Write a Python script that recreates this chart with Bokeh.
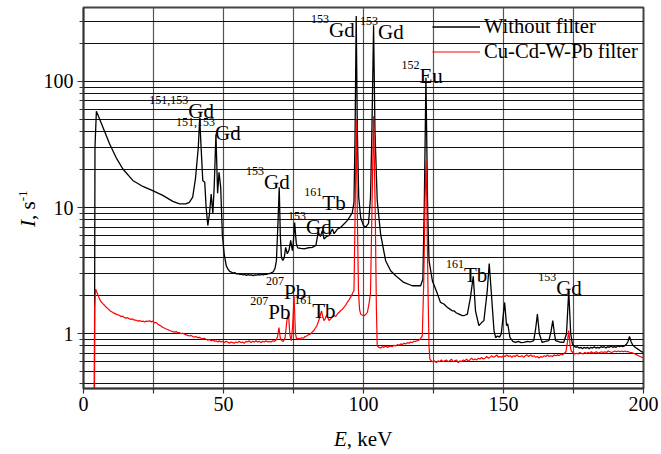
from bokeh.plotting import figure
from bokeh.models import (FixedTicker, PrintfTickFormatter, Range1d, Legend,
                          LegendItem, ColumnDataSource, Div)
from bokeh.layouts import row, column
from bokeh.core.properties import value
from bokeh.embed import file_html
from bokeh.resources import INLINE

FONT = "Liberation Serif"

# ---------------- data (E in keV, I in 1/s) ----------------
without_filter = [
    (3.9, 0.30), (4.1, 30.0), (4.6, 58.0), (5.2, 54.0), (6.9, 43.4), (9.3, 32.0),
    (11.6, 25.0), (14.0, 20.3), (17.6, 16.4), (21.2, 14.7), (24.7, 13.6), (28.3, 12.5),
    (31.9, 11.2), (34.3, 10.7), (36.5, 10.7), (37.8, 11.0), (39.0, 12.1), (40.0, 17.0),
    (40.6, 24.0), (41.0, 30.0), (41.5, 51.0), (42.0, 30.0), (42.6, 16.4), (43.3, 15.9),
    (43.8, 10.0), (44.4, 7.2), (45.0, 9.0), (45.6, 12.8), (46.2, 9.0), (46.7, 15.0),
    (47.3, 38.0), (47.9, 13.0), (48.4, 19.0), (49.0, 14.5), (49.6, 6.0), (50.3, 4.2),
    (51.0, 3.45), (51.6, 3.25), (52.2, 3.12), (52.8, 3.08), (53.4, 3.02), (54.0, 3.05),
    (54.6, 2.98), (55.2, 3.0), (55.8, 2.95), (56.4, 2.97), (57.0, 2.92), (57.6, 2.95),
    (58.2, 2.90), (58.8, 2.94), (59.4, 2.91), (60.0, 2.93), (60.6, 2.89), (61.2, 2.93),
    (61.8, 2.91), (62.4, 2.94), (63.0, 2.92), (63.6, 2.95), (64.2, 2.93), (64.8, 2.97),
    (65.4, 2.95), (66.0, 2.99), (66.6, 3.0), (67.2, 3.05), (67.8, 3.1), (68.4, 3.3),
    (68.9, 3.8), (69.5, 8.0), (69.9, 14.5), (70.3, 6.0), (70.7, 4.0), (71.2, 3.8),
    (71.7, 4.0), (72.2, 4.84), (72.8, 4.3), (73.4, 4.6), (74.0, 5.5), (74.6, 4.55),
    (75.0, 5.5), (75.4, 7.6), (76.0, 5.2), (76.5, 4.8), (77.6, 4.75), (78.8, 4.7),
    (80.2, 4.8), (81.7, 4.84), (83.0, 5.0), (83.8, 6.36), (84.6, 5.9), (85.3, 6.56),
    (85.9, 5.64), (86.8, 5.9), (87.7, 6.0), (88.9, 6.76), (89.5, 6.2), (90.7, 6.76),
    (91.6, 6.9), (92.5, 7.2), (94.2, 7.88), (95.2, 8.5), (96.0, 9.1), (96.6, 11.0),
    (97.0, 40.0), (97.4, 330.0), (97.8, 40.0), (98.3, 12.0), (99.0, 8.3), (100.0, 7.2),
    (100.8, 6.98), (101.8, 7.5), (102.5, 12.0), (103.0, 40.0), (103.6, 278.0),
    (104.1, 40.0), (104.9, 11.4), (106.1, 6.18), (107.9, 3.79), (109.7, 3.16),
    (111.5, 2.88), (114.4, 2.55), (117.4, 2.4), (120.4, 2.4), (121.2, 2.7), (121.7, 10.0),
    (122.3, 107.0), (122.9, 10.0), (123.4, 3.79), (124.6, 2.63), (126.4, 2.07),
    (127.5, 1.77), (128.7, 1.72), (129.9, 1.62), (131.0, 1.56), (131.7, 1.52),
    (132.3, 1.52), (133.2, 1.46), (134.1, 1.43), (134.7, 1.41), (135.3, 1.39),
    (136.2, 1.40), (137.1, 1.43), (138.2, 1.94), (139.2, 2.85), (140.0, 1.52),
    (141.2, 1.16), (142.1, 1.22), (143.0, 1.27), (144.2, 2.19), (144.9, 3.6),
    (145.6, 2.19), (146.6, 1.06), (147.2, 0.93), (147.8, 0.96), (148.6, 0.94),
    (149.2, 1.0), (150.4, 1.77), (151.1, 1.16), (151.5, 1.2), (152.3, 0.935),
    (153.3, 0.87), (154.3, 0.853), (155.3, 0.87), (156.3, 0.85), (157.3, 0.853),
    (158.5, 0.87), (159.6, 0.86), (160.8, 0.88), (161.5, 1.1), (162.1, 1.43),
    (162.8, 1.0), (163.8, 0.853), (165.0, 0.87), (166.2, 0.88), (167.0, 1.05),
    (167.6, 1.27), (168.2, 1.0), (168.6, 0.88), (170.0, 0.86), (171.5, 0.853),
    (172.5, 1.0), (173.3, 2.19), (174.0, 1.0), (174.6, 0.83), (175.1, 0.80),
    (175.8, 0.78), (176.4, 0.79), (177.0, 0.77), (177.6, 0.78), (178.2, 0.76),
    (178.8, 0.78), (179.4, 0.77), (180.0, 0.78), (180.6, 0.76), (181.2, 0.78),
    (181.8, 0.77), (182.4, 0.79), (183.0, 0.77), (183.6, 0.78), (184.2, 0.77),
    (184.8, 0.79), (185.4, 0.78), (186.0, 0.79), (186.6, 0.77), (187.2, 0.79),
    (187.8, 0.78), (188.4, 0.80), (189.0, 0.78), (189.6, 0.79), (190.2, 0.78),
    (190.8, 0.80), (191.4, 0.79), (192.0, 0.80), (192.6, 0.79), (193.2, 0.80),
    (193.8, 0.82), (194.4, 0.86), (195.0, 0.95), (195.6, 0.86), (196.2, 0.81),
    (196.8, 0.79), (197.4, 0.77), (198.0, 0.755), (198.6, 0.74), (199.3, 0.72),
    (200.0, 0.71),
]

cu_cd_w_pb_filter = [
    (3.85, 0.30), (4.0, 1.6), (4.3, 2.26), (4.7, 2.15), (5.1, 2.05), (5.7, 1.89),
    (6.2, 1.80), (6.8, 1.74), (7.4, 1.69), (8.1, 1.62), (8.7, 1.58), (9.3, 1.53),
    (9.9, 1.50), (10.5, 1.47), (11.1, 1.45), (11.6, 1.43), (12.2, 1.41), (12.8, 1.40),
    (13.4, 1.37), (14.0, 1.38), (14.6, 1.34), (15.2, 1.33), (15.8, 1.34), (16.4, 1.31),
    (17.0, 1.30), (17.6, 1.31), (18.2, 1.28), (18.8, 1.28), (19.4, 1.26), (20.0, 1.27),
    (20.6, 1.25), (21.2, 1.26), (21.8, 1.24), (22.4, 1.26), (23.0, 1.25), (23.6, 1.27),
    (24.2, 1.24), (24.7, 1.26), (25.3, 1.22), (25.9, 1.23), (26.5, 1.19), (27.1, 1.17),
    (27.7, 1.15), (28.3, 1.12), (28.9, 1.11), (29.5, 1.09), (30.1, 1.08), (30.7, 1.06),
    (31.3, 1.05), (31.9, 1.04), (32.5, 1.03), (33.1, 1.04), (33.7, 1.02), (34.3, 1.02),
    (34.9, 1.00), (35.5, 1.01), (36.1, 0.99), (36.7, 0.98), (37.2, 0.97), (37.8, 0.96),
    (38.4, 0.97), (39.0, 0.95), (39.6, 0.94), (40.2, 0.95), (40.8, 0.93), (41.4, 0.935),
    (42.0, 0.92), (42.6, 0.91), (43.2, 0.92), (43.8, 0.90), (44.4, 0.89), (45.0, 0.90),
    (45.6, 0.88), (46.2, 0.89), (46.8, 0.87), (47.4, 0.88), (48.0, 0.86), (48.5, 0.88),
    (49.1, 0.86), (49.7, 0.87), (50.3, 0.85), (50.9, 0.87), (51.5, 0.86), (52.1, 0.84),
    (52.7, 0.86), (53.3, 0.85), (53.8, 0.84), (54.4, 0.86), (55.0, 0.85), (55.6, 0.87),
    (56.2, 0.85), (56.8, 0.86), (57.4, 0.84), (58.0, 0.87), (58.6, 0.86), (59.2, 0.88),
    (59.8, 0.85), (60.4, 0.87), (61.0, 0.86), (61.6, 0.88), (62.2, 0.86), (62.8, 0.87),
    (63.4, 0.85), (64.0, 0.87), (64.6, 0.86), (65.2, 0.88), (65.8, 0.86), (66.4, 0.87),
    (67.0, 0.86), (67.6, 0.88), (68.2, 0.87), (68.8, 0.89), (69.3, 0.95), (69.8, 1.12),
    (70.3, 0.92), (70.8, 0.88), (71.4, 0.87), (72.0, 0.93), (72.6, 1.25), (73.2, 1.45),
    (73.7, 0.98), (74.2, 0.88), (74.7, 1.15), (75.2, 2.0), (75.7, 1.0), (76.1, 0.91),
    (76.7, 0.92), (77.3, 0.91), (77.9, 0.93), (78.5, 0.92), (79.1, 0.95), (79.7, 0.96),
    (80.3, 0.98), (80.9, 0.99), (81.5, 1.02), (82.1, 1.05), (82.7, 1.1), (83.3, 1.15),
    (83.9, 1.25), (84.4, 1.35), (85.0, 1.52), (85.5, 1.35), (85.9, 1.27), (86.4, 1.32),
    (86.8, 1.41), (87.3, 1.33), (87.7, 1.27), (88.3, 1.31), (88.9, 1.36), (89.5, 1.39),
    (90.1, 1.37), (90.7, 1.44), (91.3, 1.48), (91.8, 1.52), (92.4, 1.56), (93.0, 1.62),
    (93.6, 1.68), (94.2, 1.77), (94.8, 1.85), (95.4, 1.95), (96.0, 2.07), (96.6, 2.2),
    (97.0, 9.0), (97.4, 50.0), (97.8, 9.0), (98.2, 2.2), (98.6, 1.55), (99.0, 1.43),
    (99.6, 1.40), (100.2, 1.39), (100.8, 1.42), (101.4, 1.48), (102.0, 1.75), (102.5, 2.1),
    (103.0, 9.0), (103.6, 53.0), (104.2, 9.0), (104.6, 1.6), (104.9, 0.80), (105.5, 0.78),
    (106.1, 0.77), (106.7, 0.79), (107.3, 0.78), (107.9, 0.80), (108.5, 0.78), (109.1, 0.79),
    (109.7, 0.80), (110.3, 0.79), (110.9, 0.81), (111.5, 0.80), (112.1, 0.82), (112.7, 0.81),
    (113.3, 0.83), (113.9, 0.82), (114.5, 0.84), (115.1, 0.83), (115.7, 0.85), (116.3, 0.84),
    (116.8, 0.86), (117.4, 0.85), (118.0, 0.87), (118.6, 0.87), (119.2, 0.88), (119.8, 0.89),
    (120.4, 0.92), (121.0, 0.96), (121.5, 2.5), (122.0, 12.0), (122.3, 23.6), (122.6, 12.0),
    (123.0, 2.5), (123.4, 0.8), (123.7, 0.63), (124.2, 0.61), (124.8, 0.60), (125.4, 0.61),
    (126.0, 0.59), (126.6, 0.61), (127.2, 0.60), (127.8, 0.62), (128.4, 0.60), (129.0, 0.61),
    (129.6, 0.62), (130.2, 0.60), (130.8, 0.61), (131.4, 0.63), (132.0, 0.60), (132.6, 0.61),
    (133.2, 0.62), (133.8, 0.59), (134.4, 0.61), (135.0, 0.60), (135.6, 0.62), (136.2, 0.61),
    (136.8, 0.63), (137.4, 0.61), (138.0, 0.62), (138.6, 0.64), (139.2, 0.62), (139.8, 0.63),
    (140.4, 0.62), (141.0, 0.64), (141.6, 0.63), (142.2, 0.65), (142.8, 0.63), (143.4, 0.64),
    (144.0, 0.66), (144.6, 0.64), (145.2, 0.65), (145.8, 0.67), (146.4, 0.65), (147.0, 0.66),
    (147.6, 0.68), (148.2, 0.65), (148.8, 0.66), (149.4, 0.65), (150.0, 0.67), (150.6, 0.66),
    (151.2, 0.68), (151.8, 0.66), (152.4, 0.67), (153.0, 0.65), (153.6, 0.67), (154.2, 0.66),
    (154.8, 0.68), (155.4, 0.66), (156.0, 0.66), (156.6, 0.67), (157.2, 0.65), (157.8, 0.67),
    (158.4, 0.68), (159.0, 0.66), (159.7, 0.68), (160.3, 0.66), (160.9, 0.67), (161.5, 0.65),
    (162.1, 0.66), (162.7, 0.64), (163.3, 0.66), (163.9, 0.65), (164.5, 0.67), (165.1, 0.66),
    (165.7, 0.68), (166.3, 0.66), (166.9, 0.67), (167.5, 0.66), (168.1, 0.68), (168.7, 0.67),
    (169.3, 0.68), (169.9, 0.67), (170.5, 0.69), (171.1, 0.68), (171.7, 0.70), (172.3, 0.72),
    (172.8, 0.85), (173.3, 1.06), (173.8, 0.80), (174.2, 0.73), (174.8, 0.71), (175.4, 0.69),
    (176.0, 0.70), (176.6, 0.69), (177.2, 0.71), (177.8, 0.70), (178.4, 0.69), (179.0, 0.71),
    (179.6, 0.70), (180.2, 0.71), (180.8, 0.70), (181.4, 0.72), (182.0, 0.70), (182.6, 0.71),
    (183.2, 0.72), (183.8, 0.70), (184.4, 0.71), (185.0, 0.72), (185.6, 0.71), (186.2, 0.72),
    (186.8, 0.71), (187.4, 0.73), (188.0, 0.72), (188.6, 0.71), (189.2, 0.72), (189.8, 0.73),
    (190.4, 0.72), (191.0, 0.73), (191.6, 0.72), (192.2, 0.73), (192.8, 0.72), (193.4, 0.73),
    (194.0, 0.72), (194.6, 0.72), (195.2, 0.71), (195.8, 0.71), (196.4, 0.70), (197.0, 0.69),
    (197.6, 0.68), (198.2, 0.67), (198.8, 0.66), (199.4, 0.65), (200.0, 0.645),
]

# peak annotations: (isotope mass, element, E of label start, I of label baseline)
peak_mass = ["151,153", "151,153", "153", "161", "153", "207", "207", "161",
             "153", "153", "152", "161", "153"]
peak_elem = ["Gd", "Gd", "Gd", "Tb", "Gd", "Pb", "Pb", "Tb",
             "Gd", "Gd", "Eu", "Tb", "Gd"]
peak_lab_E = [37.4, 47.0, 64.5, 85.3, 79.5, 71.6, 66.0, 81.7,
              87.7, 105.2, 120.0, 135.9, 168.8]
peak_lab_I = [57.8, 38.9, 15.9, 10.8, 6.98, 2.13, 1.50, 1.52,
              257.0, 244.0, 110.0, 2.92, 2.31]

x_major = [0, 50, 100, 150, 200]
x_minor = [25, 75, 125, 175]
y_major = [1, 10, 100]
y_minor = [0.4, 0.5, 0.6, 0.7, 0.8, 0.9, 2, 3, 4, 5, 6, 7, 8, 9,
           20, 30, 40, 50, 60, 70, 80, 90, 200, 300]

series_names = ["Without filter", "Cu-Cd-W-Pb filter"]

# ---------------- figure ----------------
p = figure(width=621, height=424, y_axis_type="log",
           x_range=Range1d(0, 200), y_range=Range1d(0.368, 385),
           output_backend="svg", toolbar_location=None,
           min_border_left=43, min_border_right=18,
           min_border_top=7, min_border_bottom=36, margin=0)
p.background_fill_color = "white"
p.border_fill_color = "white"
p.outline_line_color = "#444444"
p.outline_line_width = 2

# axes
p.xaxis.ticker = FixedTicker(ticks=x_major, minor_ticks=x_minor)
p.yaxis.ticker = FixedTicker(ticks=y_major, minor_ticks=y_minor)
p.yaxis.formatter = PrintfTickFormatter(format="%d")
for ax in (p.xaxis[0], p.yaxis[0]):
    ax.axis_line_color = "#333333"
    ax.axis_line_width = 1.5
    ax.major_tick_line_color = "#333333"
    ax.minor_tick_line_color = "#333333"
    ax.major_tick_line_width = 1.2
    ax.minor_tick_line_width = 1.2
    ax.major_tick_in = 0
    ax.minor_tick_in = 0
    ax.major_label_text_font = FONT
    ax.major_label_text_font_size = "20px"
    ax.major_label_text_color = "black"
p.xaxis.major_tick_out = 5
p.xaxis.minor_tick_out = 5
p.xaxis.major_label_standoff = 3
p.yaxis.major_tick_out = 6
p.yaxis.minor_tick_out = 4
p.yaxis.major_label_standoff = 4

# grids
p.xgrid.grid_line_color = "#555555"
p.xgrid.grid_line_width = 1.2
p.xgrid.minor_grid_line_color = "#555555"
p.xgrid.minor_grid_line_width = 1.2
p.ygrid.grid_line_color = "#111111"
p.ygrid.grid_line_width = 1
p.ygrid.minor_grid_line_color = "#111111"
p.ygrid.minor_grid_line_width = 1

# lines
rb = p.line([e for e, _ in without_filter], [i for _, i in without_filter],
            line_color="black", line_width=1.3)
rr = p.line([e for e, _ in cu_cd_w_pb_filter], [i for _, i in cu_cd_w_pb_filter],
            line_color="#ff0000", line_width=1.2)

legend = Legend(items=[LegendItem(label=series_names[0], renderers=[rb]),
                       LegendItem(label=series_names[1], renderers=[rr])],
                location=(349, 324))
legend.label_text_font = FONT
legend.label_text_font_size = "20.6px"
legend.label_text_color = "black"
legend.glyph_width = 48
legend.glyph_height = 25
legend.label_height = 25
legend.label_standoff = 4
legend.spacing = 0
legend.padding = 3
legend.margin = 0
legend.border_line_color = None
legend.background_fill_alpha = 0
p.add_layout(legend)

# peak labels
src = ColumnDataSource(dict(x=peak_lab_E, y=peak_lab_I, elem=peak_elem, mass=peak_mass))
p.text(x="x", y="y", text="elem", source=src, text_font=value(FONT),
       text_font_size="21px", text_color="black", text_align="left",
       text_baseline="alphabetic")
p.text(x="x", y="y", text="mass", source=src, text_font=value(FONT),
       text_font_size="12px", text_color="black", text_align="right",
       text_baseline="alphabetic", y_offset=-11)

# axis titles as HTML text (italic symbol + upright unit, superscript exponent)
ylab = Div(width=40, height=454, margin=0, text=(
    '<div style="position:relative;width:40px;height:454px;">'
    '<div style="position:absolute;left:16px;top:227px;transform-origin:0 0;'
    'transform:rotate(-90deg);white-space:nowrap;font-family:\'Liberation Serif\';'
    'font-size:21px;line-height:1;color:black;">'
    '<i>I</i>, s<sup style="font-size:13px;">-1</sup></div></div>'))
xlab = Div(width=621, height=30, margin=0, text=(
    '<div style="position:relative;width:621px;height:30px;">'
    '<div style="position:absolute;left:294px;top:5px;white-space:nowrap;'
    'font-family:\'Liberation Serif\';font-size:21px;line-height:1;color:black;">'
    '<i>E</i>, keV</div></div>'))

layout = row(ylab, column(p, xlab, spacing=0), spacing=0)

open("out.html", "w").write(file_html(layout, INLINE))
